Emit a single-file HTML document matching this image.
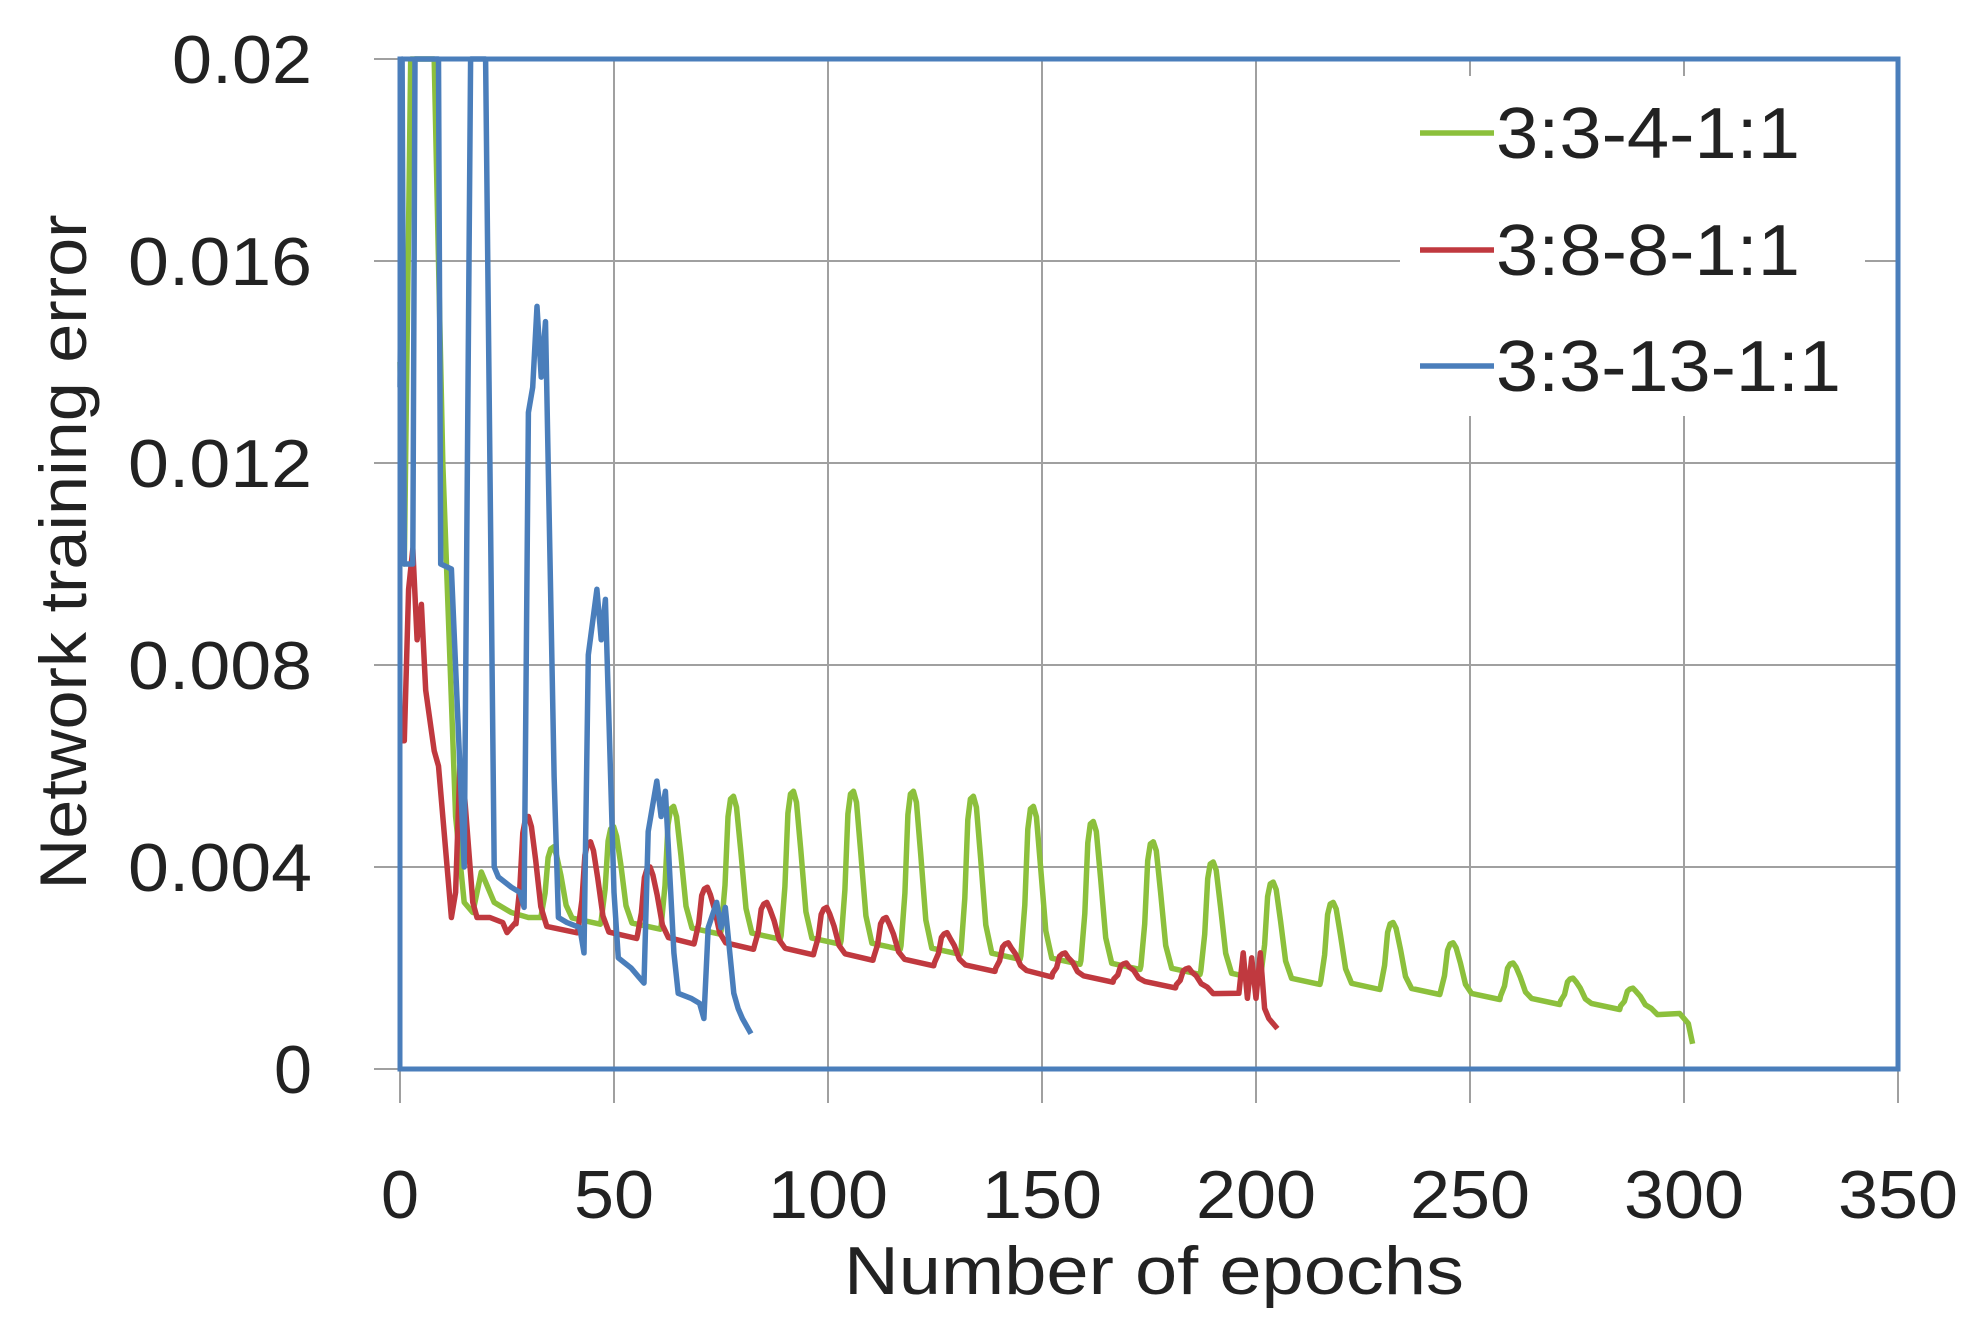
<!DOCTYPE html>
<html><head><meta charset="utf-8"><style>
html,body{margin:0;padding:0;background:#fff;width:1988px;height:1340px;overflow:hidden}
text{font-family:"Liberation Sans",sans-serif;fill:#222}
</style></head><body>
<svg id="s" width="1988" height="1340" xmlns="http://www.w3.org/2000/svg">
<g stroke="#a0a0a0" stroke-width="2" id="grid"></g>
<g id="series" fill="none" stroke-width="5.5" stroke-linejoin="round"></g>
<rect x="1400" y="76" width="465" height="340" fill="#fff"/>
<rect x="400" y="59" width="1498" height="1010" fill="none" stroke="#4a7ebb" stroke-width="5"/>
<g font-size="68" text-anchor="end" lengthAdjust="spacingAndGlyphs">
<text x="312" y="83" textLength="140" lengthAdjust="spacingAndGlyphs">0.02</text>
<text x="312" y="285" textLength="184" lengthAdjust="spacingAndGlyphs">0.016</text>
<text x="312" y="487" textLength="184" lengthAdjust="spacingAndGlyphs">0.012</text>
<text x="312" y="689" textLength="184" lengthAdjust="spacingAndGlyphs">0.008</text>
<text x="312" y="891" textLength="184" lengthAdjust="spacingAndGlyphs">0.004</text>
<text x="312" y="1093" textLength="38" lengthAdjust="spacingAndGlyphs">0</text>
</g>
<g font-size="68" text-anchor="middle" id="xl"></g>
<text x="1154" y="1294" font-size="68" text-anchor="middle" textLength="620" lengthAdjust="spacingAndGlyphs">Number of epochs</text>
<text transform="translate(86,552) rotate(-90)" font-size="66" text-anchor="middle" textLength="675" lengthAdjust="spacingAndGlyphs">Network training error</text>
<g stroke-width="5.5">
<line x1="1420" y1="133" x2="1494" y2="133" stroke="#8cc03c"/>
<line x1="1420" y1="250" x2="1494" y2="250" stroke="#c0393f"/>
<line x1="1420" y1="366" x2="1494" y2="366" stroke="#4a7ebb"/>
</g>
<g font-size="72">
<text x="1496" y="158" textLength="304" lengthAdjust="spacingAndGlyphs">3:3-4-1:1</text>
<text x="1496" y="275" textLength="304" lengthAdjust="spacingAndGlyphs">3:8-8-1:1</text>
<text x="1496" y="391" textLength="345" lengthAdjust="spacingAndGlyphs">3:3-13-1:1</text>
</g>
</svg>
<script>
var NS="http://www.w3.org/2000/svg";
function X(e){return 400+e*4.28}
function Y(v){v=Math.min(v,0.02);return 1069-v*50500}
var g=document.getElementById('grid');
function ln(x1,y1,x2,y2){var l=document.createElementNS(NS,'line');l.setAttribute('x1',x1);l.setAttribute('y1',y1);l.setAttribute('x2',x2);l.setAttribute('y2',y2);g.appendChild(l);}
for(var i=0;i<=5;i++){var y=59+i*202;ln(374,y,1898,y);}
for(var i=0;i<=7;i++){var x=400+i*214;ln(x,59,x,1103);}
var xl=document.getElementById('xl');
var tw=[38,80,120,120,120,120,120,120];
for(var i=0;i<=7;i++){var t=document.createElementNS(NS,'text');t.setAttribute('x',400+i*214);t.setAttribute('y',1218);t.setAttribute('textLength',tw[i]);t.setAttribute('lengthAdjust','spacingAndGlyphs');t.textContent=String(i*50);xl.appendChild(t);}
function peaks(pts,ps,hs,base){
 for(var k=0;k<ps.length;k++){var p=ps[k],h=hs[k],b=base(p);
  pts.push([p-2.6,b+0.00005],[p-1.7,b+(h-b)*0.35],[p-1,b+(h-b)*0.85],[p-0.4,h*0.99],[p+0.3,h],[p+1,h*0.96],[p+2,b+(h-b)*0.6],[p+3.2,b+(h-b)*0.18],[p+4.6,b],[p+(ps[k+1]?ps[k+1]-p-2.8:6),base(p+10)-0.00005]);
 }
 return pts;
}
function path(pts,c){var d=pts.map(function(p,i){return (i?'L':'M')+X(p[0]).toFixed(1)+','+Y(p[1]).toFixed(1)}).join('');
 var e=document.createElementNS(NS,'path');e.setAttribute('d',d);e.setAttribute('stroke',c);document.getElementById('series').appendChild(e);}
var gp=[[0,0.014],[1,0.01],[2.5,0.021],[8,0.021],[10,0.012],[13,0.005],[15,0.0033],[17,0.0031],[19,0.0039],[22,0.0033],[26,0.0031],[30,0.003],[33,0.003]];
var gps=[],ghs=[0.0044,0.0048,0.0052,0.0054,0.0055,0.0055,0.0055,0.0054,0.0052,0.0049,0.0045,0.0041,0.0037,0.0033,0.0029,0.0025,0.0021,0.0018,0.0016];
for(var k=0;k<19;k++)gps.push(35.6+k*14.01);
peaks(gp,gps,ghs,function(e){return 0.0031-(e-20)*0.0000071});
gp.push([299,0.0011],[301,0.0009],[302,0.0005]);
path(gp,'#8cc03c');
var rp=[[0,0.0065],[1,0.0065],[2,0.0095],[3,0.0103],[4,0.0085],[5,0.0092],[6,0.0075],[8,0.0063],[9,0.006],[11,0.004],[12,0.003],[13,0.0035],[14,0.006],[15,0.0055],[17,0.0033],[18,0.003],[21,0.003],[24,0.0029],[25,0.0027],[27,0.0029]];
var rps=[29.7,44.2,58.1,71.5,85.4,99.4,113.3,127.5,141.8,155.1,169.4,184],rhs=[0.005,0.0045,0.004,0.0036,0.0033,0.0032,0.003,0.0027,0.0025,0.0023,0.0021,0.002];
peaks(rp,rps,rhs,function(e){return 0.0029-(e-20)*0.0000078});
rp.push([196,0.0015],[197,0.0023],[198,0.0014],[199,0.0022],[200,0.0014],[201,0.0023],[202,0.0012],[203,0.001],[205,0.0008]);
path(rp,'#c0393f');
var bp=[[0,0.0135],[0.5,0.021],[1,0.01],[3,0.01],[3.5,0.021],[9,0.021],[9.5,0.01],[12,0.0099],[15,0.004],[16.5,0.021],[20,0.021],[22,0.004],[23,0.0038],[26,0.0036],[28,0.0035],[29,0.0032],[30,0.013],[31,0.0135],[32,0.0151],[33,0.0137],[34,0.0148],[36,0.0058],[37,0.003],[39,0.0029],[42,0.0028],[43,0.0023],[44,0.0082],[46,0.0095],[47,0.0085],[48,0.0093],[50,0.0035],[51,0.0022],[54,0.002],[56,0.0018],[57,0.0017],[58,0.0047],[60,0.0057],[61,0.005],[62,0.0055],[64,0.0023],[65,0.0015],[68,0.0014],[70,0.0013],[71,0.001],[72,0.0028],[74,0.0033],[75,0.0028],[76,0.0032],[78,0.0015],[79,0.0012],[80,0.001],[82,0.0007]];
path(bp,'#4a7ebb');
</script>
</body></html>
